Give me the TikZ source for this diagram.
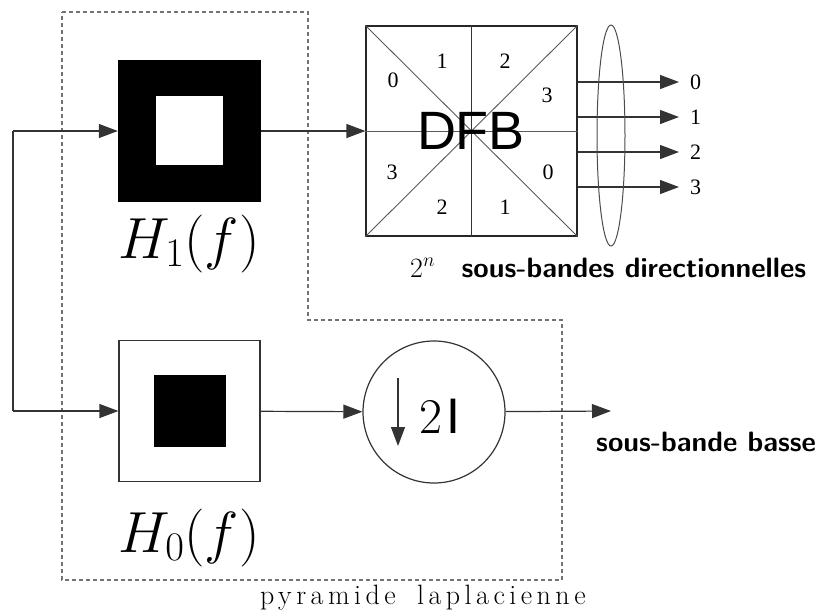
\RequirePackage{fix-cm}
\documentclass[tikz,border=0pt]{standalone}
\usepackage{fontspec}
\newfontfamily\arialfnt{Liberation Sans}
\newfontfamily\serifnum{Liberation Serif}
\newfontfamily\lmrsp{Latin Modern Roman}[LetterSpace=16]
\usetikzlibrary{arrows.meta,shapes.geometric}
\begin{document}
\begin{tikzpicture}[x=1pt,y=-1pt,
  conn/.style={line width=1.2pt, draw=black!80, -{Triangle[length=19pt,width=14pt]}},
  plain/.style={line width=1.2pt, draw=black!80},
  thin/.style={line width=0.9pt, draw=black!65},
  dbox/.style={draw=black!55, line width=1.2pt, dash pattern=on 4pt off 3pt},
  num/.style={font=\serifnum\fontsize{22}{22}\selectfont, inner sep=0pt},
  bigmath/.style={font=\fontsize{58}{60}\selectfont, inner sep=0pt},
  label/.style={font=\fontsize{28}{30}\sffamily\bfseries, inner sep=0pt},
]
\useasboundingbox (0,0) rectangle (820,614);
% dashed frame
\draw[dbox] (62,12) -- (308,12) -- (308,320) -- (562,320) -- (562,580) -- (62,580) -- cycle;
\node[font=\lmrsp\fontsize{28}{30}\selectfont, inner sep=0pt, anchor=base west] (pyr) at (260,604) {pyramide\hspace{0.3em} laplacienne};

% H1 filter
\node[fill=black, minimum width=143, minimum height=142, inner sep=0pt] (H1) at (189.5,131) {};
\node[fill=white, minimum width=67, minimum height=69, inner sep=0pt] (H1in) at (189.5,130.5) {};
\node[bigmath, anchor=base] (L1) at (189,258) {$H_1(f)$};

% H0 filter
\node[draw=black!80, line width=1.2pt, minimum width=141, minimum height=141, inner sep=0pt] (H0) at (189.5,411) {};
\node[fill=black, minimum width=72, minimum height=72, inner sep=0pt] (H0in) at (190,411) {};
\node[bigmath, anchor=base] (L0) at (189,552) {$H_0(f)$};

% DFB
\node[draw=black!85, line width=1.2pt, minimum width=211, minimum height=210, inner sep=0pt] (DFB) at (471.5,131) {};
\draw[thin] (DFB.north west) -- (DFB.south east);
\draw[thin] (DFB.south west) -- (DFB.north east);
\draw[plain] (DFB.north) -- (DFB.south);
\draw[thin] (DFB.west) -- (DFB.east);
\node[font=\fontsize{54}{54}\arialfnt, inner sep=0pt] (dfbt) at (471,131) {DFB};
\node[num] (n1) at (442,61) {1};
\node[num] (n2) at (505,61) {2};
\node[num] (n3) at (393,80) {0};
\node[num] (n4) at (547,95) {3};
\node[num] (n5) at (392,172) {3};
\node[num] (n6) at (442,207) {2};
\node[num] (n7) at (505,207) {1};
\node[num] (n8) at (548,172) {0};

% outputs of DFB
\foreach \i/\yy in {0/82,1/117,2/152,3/187} {
  \node[num, anchor=west] (l\i) at (690,\yy) {\i};
  \coordinate (t\i) at (679,\yy);
  \draw[conn] (DFB.east |- t\i) -- (t\i);
}
\node[ellipse, draw=black!70, line width=1pt, minimum width=28, minimum height=221, inner sep=0pt] (grp) at (611,135.5) {};
\node[label, anchor=base west] (dir) at (410,277) {$2^n$\hspace{0.95em}sous-bandes directionnelles};

% downsampler
\node[circle, draw=black!80, line width=1.2pt, minimum size=142, inner sep=0pt] (D) at (434,412) {};
\coordinate (da) at (398,378);
\coordinate (db) at (398,446);
\draw[conn] (da) -- (db);
\node[inner sep=0pt, anchor=base west, font=\fontsize{50}{50}\selectfont] (two) at (419,433) {2\hspace{4pt}{\arialfnt I}};

% connectors
\coordinate (jt) at (13,131);
\coordinate (jb) at (13,411);
\coordinate (lo) at (611,411);
\draw[plain] (jt) -- (jb);
\draw[conn] (jt) -- (H1);
\draw[conn] (jb) -- (H0);
\draw[conn] (H1) -- (DFB);
\draw[conn] (H0) -- (D);
\draw[conn] (D) -- (lo);
\node[label, anchor=base west] (basse) at (596,451) {sous-bande basse};
\end{tikzpicture}
\end{document}
